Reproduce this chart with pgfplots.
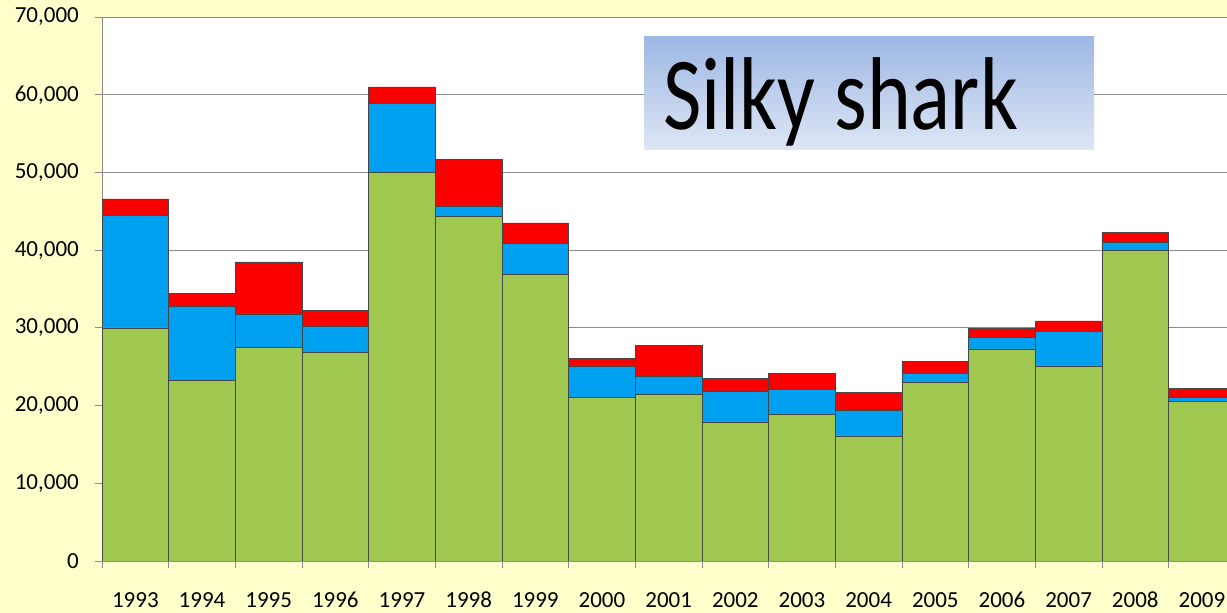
\documentclass[border=0pt]{standalone}
\usepackage{fontspec}
\setmainfont{Carlito}
\usepackage{pgfplots}
\usepackage{pgfplotstable}
\pgfplotsset{compat=1.18}

\definecolor{bgyellow}{RGB}{255,255,204}
\definecolor{sgreen}{RGB}{160,200,80}
\definecolor{sblue}{RGB}{0,160,240}
\definecolor{sred}{RGB}{250,0,0}
\definecolor{barline}{RGB}{70,70,70}
\definecolor{gridgray}{RGB}{140,140,140}
\definecolor{boxtop}{RGB}{157,184,228}
\definecolor{boxbot}{RGB}{222,230,245}

% catch by year: green, blue and red segments
\pgfplotstableread{
x  green blue  red
0  30000 14500 2100
1  23200 9600  1600
2  27500 4300  6700
3  26800 3400  2000
4  50000 8900  2100
5  44300 1400  6000
6  36900 4000  2600
7  21100 4000  1000
8  21400 2400  3900
9  17900 4000  1600
10 18900 3200  2000
11 16100 3300  2300
12 23000 1200  1500
13 27300 1500  1100
14 25100 4400  1400
15 40000 1000  1300
16 20500 600   1100
}\sharkdata

\begin{document}
\begin{tikzpicture}
  \fill[bgyellow] (0,0) rectangle (1227bp,613bp);
  \begin{axis}[
      at={(102bp,52bp)}, anchor=south west,
      scale only axis,
      width=1133.3bp, height=544bp,
      xmin=-0.5, xmax=16.5,
      ymin=0, ymax=70000,
      ybar stacked, bar width=1,
      axis background/.style={fill=white},
      axis line style={gridgray},
      ymajorgrids,
      grid style={gridgray, line width=0.8bp},
      tick pos=left,
      xtick={0,...,16},
      xticklabels={1993,1994,1995,1996,1997,1998,1999,2000,2001,2002,2003,2004,2005,2006,2007,2008,2009},
      minor xtick={-0.5,0.5,...,16.5},
      major x tick style={draw=none},
      minor x tick style={gridgray, line width=0.8bp},
      ytick={0,10000,...,70000},
      y tick style={gridgray, line width=0.8bp},
      tick align=outside,
      major tick length=7bp, minor tick length=7bp,
      scaled y ticks=false,
      yticklabel={\pgfmathprintnumber[fixed,1000 sep={,}]{\tick}},
      /pgf/number format/assume math mode=true,
      ticklabel style={font=\fontsize{23bp}{26bp}\selectfont},
      xticklabel style={inner sep=0pt, anchor=north, yshift=-24bp},
      yticklabel style={inner sep=0pt, anchor=east, xshift=-16bp},
    ]
    \addplot[fill=sgreen, draw=barline, line width=0.6bp] table[x=x, y=green] {\sharkdata};
    \addplot[fill=sblue, draw=barline, line width=0.6bp] table[x=x, y=blue] {\sharkdata};
    \addplot[fill=sred, draw=barline, line width=0.6bp] table[x=x, y=red] {\sharkdata};
  \end{axis}
  \shade[top color=boxtop, bottom color=boxbot] (644bp,576bp) rectangle (1094bp,463bp);
  \node[anchor=base west, inner sep=0pt] at (663bp,483bp)
    {\scalebox{1}[1.24]{\fontsize{83.5bp}{90bp}\selectfont Silky shark}};
  \pgfresetboundingbox
  \path (0,0) rectangle (1227bp,613bp);
\end{tikzpicture}
\end{document}
